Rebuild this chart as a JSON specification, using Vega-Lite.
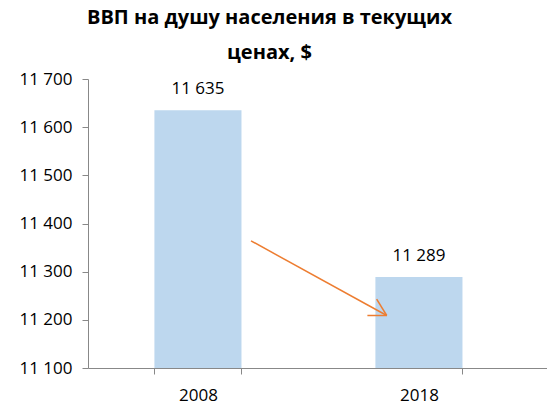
{
  "$schema": "https://vega.github.io/schema/vega-lite/v6.json",
  "width": 459,
  "height": 289,
  "autosize": "none",
  "padding": {"left": 88, "top": 79, "right": 0, "bottom": 36},
  "background": "white",
  "title": {
    "text": ["ВВП на душу населения в текущих", "ценах, $"],
    "font": "Open Sans",
    "fontSize": 20,
    "fontWeight": "bold",
    "color": "#000000",
    "lineHeight": 35,
    "anchor": "middle",
    "dx": -48,
    "offset": 7
  },
  "config": {
    "view": {"stroke": null},
    "font": "Open Sans",
    "locale": {"number": {"decimal": ",", "thousands": " ", "grouping": [3], "currency": ["", " $"]}}
  },
  "layer": [
    {
      "data": {"values": [{"year": "2008", "value": 11635}, {"year": "2018", "value": 11289}]},
      "layer": [
        {
          "mark": {"type": "bar", "color": "#BDD7EE", "clip": true},
          "encoding": {
            "x": {
              "field": "year", "type": "nominal",
              "scale": {"paddingInner": 0.606, "paddingOuter": 0.3415, "align": 0.44},
              "axis": {
                "title": null, "labelAngle": 0, "tickBand": "extent",
                "labelFont": "Open Sans", "labelFontSize": 17, "labelColor": "#000000",
                "domainColor": "#888888", "tickColor": "#888888", "tickSize": 6,
                "labelPadding": 13, "zindex": 1
              }
            },
            "y": {
              "field": "value", "type": "quantitative",
              "scale": {"domain": [11100, 11700], "nice": false, "zero": false},
              "axis": {
                "title": null, "grid": false,
                "values": [11100, 11200, 11300, 11400, 11500, 11600, 11700],
                "format": ",d",
                "labelFont": "Open Sans", "labelFontSize": 17, "labelColor": "#000000",
                "domainColor": "#888888", "tickColor": "#888888", "tickSize": 6,
                "labelPadding": 10, "zindex": 1
              }
            }
          }
        },
        {
          "mark": {"type": "text", "font": "Open Sans", "fontSize": 17, "color": "#000000", "baseline": "alphabetic", "dy": -16},
          "encoding": {
            "x": {"field": "year", "type": "nominal"},
            "y": {"field": "value", "type": "quantitative"},
            "text": {"field": "value", "type": "quantitative", "format": ",d"}
          }
        }
      ]
    },
    {
      "data": {"values": [
        {"x": 0.741, "y": 11364, "x2": 1.358, "y2": 11209},
        {"x": 1.312, "y": 11243, "x2": 1.358, "y2": 11209},
        {"x": 1.27, "y": 11209, "x2": 1.358, "y2": 11209}
      ]},
      "mark": {"type": "rule", "color": "#ED7D31", "strokeWidth": 1.5},
      "encoding": {
        "x": {"field": "x", "type": "quantitative", "scale": {"domain": [0, 2.0864], "nice": false, "zero": false}, "axis": null},
        "x2": {"field": "x2"},
        "y": {"field": "y", "type": "quantitative"},
        "y2": {"field": "y2"}
      }
    }
  ],
  "resolve": {"scale": {"x": "independent"}}
}
